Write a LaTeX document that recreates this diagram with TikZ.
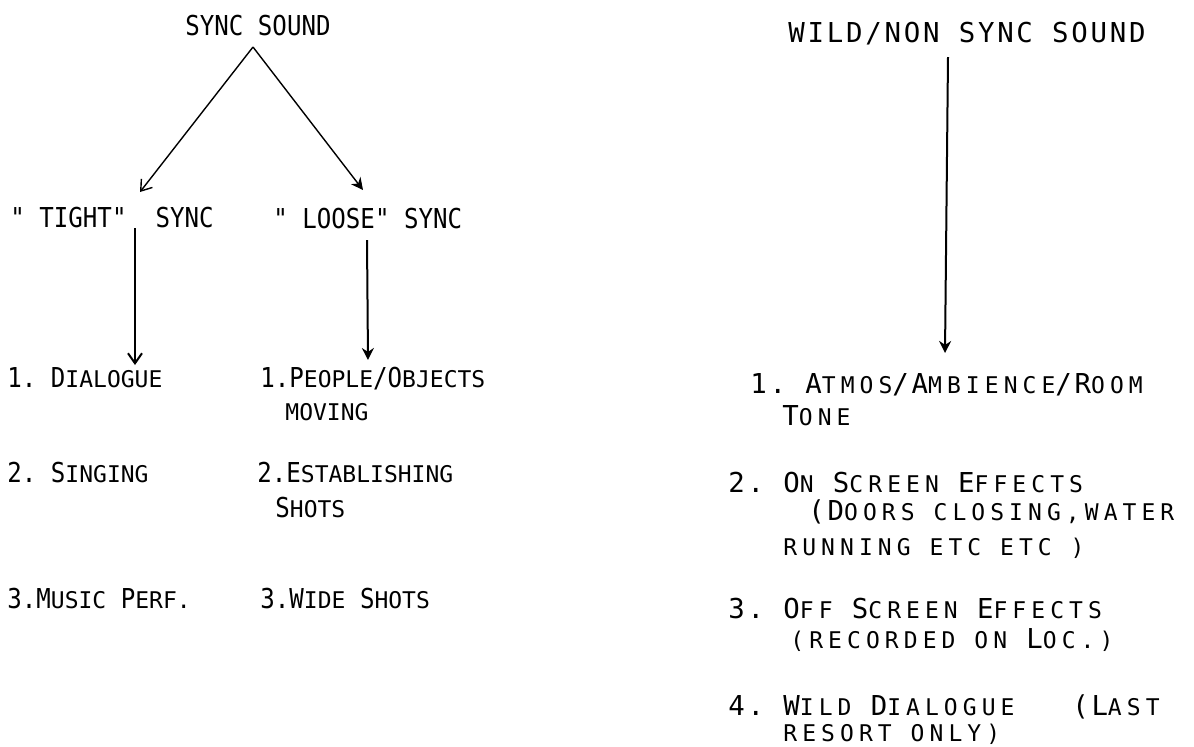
\documentclass[tikz,border=0pt]{standalone}
\usepackage{fontspec}
\usetikzlibrary{arrows.meta}

\newfontfamily\typer[FakeStretch=0.88]{DejaVu Sans Mono}
\newfontfamily\typerlc{DejaVu Sans Mono}
\newfontfamily\typerwide[LetterSpace=10]{DejaVu Sans Mono}
\newfontfamily\typerwidelc[LetterSpace=22]{DejaVu Sans Mono}
\newcommand\lc[1]{{\typerlc\fontsize{11.5}{12}\selectfont #1}}
\newcommand\wl[1]{{\typerwidelc\fontsize{11.5}{12}\selectfont #1}}

\begin{document}
\begin{tikzpicture}[x=0.5pt,y=-0.5pt,
    txt/.style={inner sep=0pt,anchor=base west,font=\typer\fontsize{13.7}{16}\selectfont},
    widetxt/.style={txt,font=\typerwide\fontsize{13.7}{16}\selectfont},
    barb/.style={line width=0.7pt,-{Straight Barb[length=5pt,width=7pt]}},
    bold/.style={line width=1pt,-{Stealth[length=6pt,width=6pt]}}]

    \useasboundingbox (0,0) rectangle (1194,746);

    % these are the headings
    \node[txt] (sync) at (185,35) {SYNC SOUND};
    \node[widetxt] (wild) at (788,42) {WILD/NON SYNC SOUND};
    \node[txt] (tight) at (10,227) {"~TIGHT"~~SYNC};
    \node[txt] (loose) at (273,228) {"~LOOSE"~SYNC};

    % tight sync
    \node[txt] (dia) at (7,387) {1.~D\lc{IALOGUE}};
    \node[txt] (sing) at (7,482) {2.~S\lc{INGING}};
    \node[txt] (music) at (7,608) {3.M\lc{USIC}~P\lc{ERF.}};

    % loose sync
    \node[txt] (people) at (260,387) {1.P\lc{EOPLE}/O\lc{BJECTS}};
    \node[txt] (moving) at (285,420) {\lc{MOVING}};
    \node[txt] (estab) at (257,482) {2.E\lc{STABLISHING}};
    \node[txt] (shots) at (275,517) {S\lc{HOTS}};
    \node[txt] (wide) at (260,608) {3.W\lc{IDE}~S\lc{HOTS}};

    % wild sound
    \node[widetxt] (atmos) at (750,393) {1.~A\wl{TMOS}/A\wl{MBIENCE}/R\wl{OOM}};
    \node[widetxt] (tone) at (782,425) {T\wl{ONE}};
    \node[widetxt] (onscreen) at (728,492) {2.~O\wl{N}~S\wl{CREEN}~E\wl{FFECTS}};
    \node[widetxt] (doors) at (808,520) {(D\wl{OORS~CLOSING,WATER}};
    \node[widetxt] (running) at (783,555) {\wl{RUNNING~ETC~ETC~)}};
    \node[widetxt] (offscreen) at (728,618) {3.~O\wl{FF}~S\wl{CREEN}~E\wl{FFECTS}};
    \node[widetxt] (recorded) at (790,648) {\wl{(RECORDED~ON}~L\wl{OC.)}};
    \node[widetxt] (wilddia) at (728,715) {4.~W\wl{ILD}~D\wl{IALOGUE}~~~(L\wl{AST}};
    \node[widetxt] (resort) at (783,741) {\wl{RESORT~ONLY)}};

    % arrows
    \draw[barb] ([xshift=34pt,yshift=-6pt]sync.base west) -- ([xshift=65pt,yshift=17.5pt]tight.base west);
    \draw[bold,line width=0.7pt] ([xshift=34pt,yshift=-6pt]sync.base west) -- ([xshift=45pt,yshift=19pt]loose.base west);
    \draw[barb,line width=1pt] ([xshift=62.5pt,yshift=-0.5pt]tight.base west) -- ([xshift=64pt,yshift=11pt]dia.base west);
    \draw[bold] ([xshift=47pt,yshift=-6pt]loose.base west) -- ([xshift=54pt,yshift=13.5pt]people.base west);
    \draw[bold] ([xshift=80pt,yshift=-7.5pt]wild.base west) -- ([xshift=97.5pt,yshift=20pt]atmos.base west);

\end{tikzpicture}
\end{document}
